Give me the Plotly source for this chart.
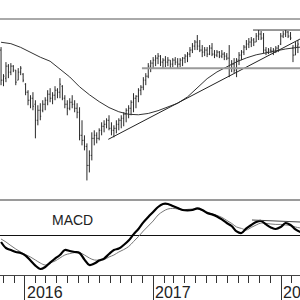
import pandas as pd
import plotly.graph_objects as go

# ---------------- data (price scale is unlabeled) ----------------
week_start = "2015-10-25"

highs = [203,176,188,186,187,185,180,182,184,177,
         167,160,155,158,150,145,147,150,153,160,
         162,158,164,162,172,165,155,150,152,155,
         150,147,143,130,115,107,100,118,120,118,
         122,128,130,132,135,128,125,130,132,135,
         138,142,145,150,157,155,162,165,173,177,
         187,190,193,195,197,195,192,194,193,190,
         192,193,192,192,193,196,198,203,207,210,
         215,210,205,203,203,205,207,200,200,199,
         200,198,197,205,190,192,192,198,200,205,
         210,212,213,212,217,220,219,217,203,202,
         203,202,204,205,217,219,220,219,218,205,208,210]
lows = [165,164,168,172,175,178,165,170,175,168,
        155,145,142,140,112,125,130,138,140,145,
        148,146,150,152,152,150,142,135,140,142,
        138,132,110,105,100,70,78,90,105,107,
        110,115,118,122,120,115,113,117,120,122,
        124,128,132,135,138,142,148,155,160,165,
        172,178,182,184,186,184,182,183,184,182,
        183,185,182,183,184,187,188,193,197,200,
        200,198,193,194,193,195,194,192,193,192,
        192,190,190,173,178,177,173,185,190,195,
        200,202,203,204,208,210,210,197,195,196,
        197,195,197,198,205,212,213,212,210,188,195,197]
opens = [200,170,172,184,178,184,180,170,178,176,
         166,158,150,152,146,130,140,140,146,150,
         156,152,155,160,158,164,152,146,142,148,
         146,142,138,115,110,104,85,95,112,115,
         112,120,124,126,130,122,120,122,126,130,
         132,136,140,142,148,152,154,160,163,170,
         174,184,187,190,192,194,188,190,188,190,
         186,190,188,186,190,192,194,196,200,204,
         208,204,200,198,200,196,202,196,195,198,
         194,196,194,192,182,186,180,190,195,198,
         203,206,208,210,208,214,216,212,200,198,
         200,199,200,202,206,214,216,218,214,202,195,204]
closes = [170,174,184,178,184,180,168,178,182,170,
          158,150,152,144,130,140,134,146,150,156,
          152,155,160,158,166,152,146,142,148,146,
          142,138,115,110,104,85,95,112,115,112,
          120,124,126,130,122,120,122,126,130,132,
          136,140,142,148,152,154,160,163,170,174,
          184,187,190,192,194,188,190,188,190,186,
          190,188,186,190,192,194,196,200,204,208,
          204,200,198,200,196,202,196,195,198,194,
          196,194,192,182,186,180,190,195,198,203,
          206,208,210,208,214,216,212,200,198,200,
          199,200,202,204,214,216,218,214,212,195,204,206]

# moving average, sampled every 4 weeks
ma_values = [207.8,206.4,202.7,197.7,192.9,188.9,181.1,173.2,163.4,155.5,
             148.6,142.7,138.5,136.0,135.5,136.8,139.6,143.0,147.0,153.3,
             162.4,171.5,178.2,183.4,188.3,192.2,195.3,197.2,199.2,201.1,
             202.4,203.5]

# MACD and signal, sampled every 2 weeks
macd_values = [-0.35,-0.65,-0.75,-0.85,-0.90,-1.03,-1.28,-1.53,-1.70,-1.60,
               -1.38,-1.18,-1.00,-0.75,-0.80,-0.85,-0.90,-1.23,-1.50,-1.43,
               -1.28,-1.18,-0.95,-0.75,-0.68,-0.50,-0.28,0.03,0.30,0.63,
               0.90,1.15,1.40,1.55,1.55,1.45,1.35,1.25,1.23,1.25,
               1.33,1.25,1.10,1.03,0.93,0.78,0.60,0.45,0.18,0.10,
               0.33,0.50,0.65,0.70,0.53,0.38,0.30,0.40,0.60,0.50,
               0.28,0.15]
signal_values = [-0.20,-0.35,-0.53,-0.70,-0.85,-0.98,-1.10,-1.25,-1.40,-1.50,
                 -1.40,-1.30,-1.15,-1.00,-0.93,-0.88,-0.88,-1.00,-1.15,-1.25,
                 -1.25,-1.23,-1.10,-1.00,-0.85,-0.73,-0.58,-0.33,-0.08,0.20,
                 0.45,0.70,1.00,1.18,1.30,1.33,1.30,1.25,1.28,1.30,
                 1.30,1.23,1.15,1.05,0.98,0.88,0.73,0.58,0.40,0.33,
                 0.25,0.38,0.50,0.60,0.58,0.55,0.53,0.53,0.50,0.48,
                 0.40,0.35]

trend_dates = ["2016-08-26", "2018-02-24"]
trend_values = [111, 211]
support_dates = ["2016-11-30", "2018-02-24"]
support_values = [182, 182]
resist_dates = ["2017-10-13", "2018-02-24"]
resist_values = [220, 220]
macd_trend_dates = ["2017-10-10", "2018-02-24"]
macd_trend_values = [0.75, 0.65]

year_ticks = ["2016-01-01", "2017-01-01", "2018-01-01"]
year_labels = ["2016", "2017", "2018"]
x_range = ["2015-10-22", "2018-02-24"]

# ---------------- figure ----------------
weeks = pd.date_range(week_start, periods=len(highs), freq="7D")
ma_dates = pd.date_range(week_start, periods=len(ma_values), freq="28D")
macd_dates = pd.date_range(week_start, periods=len(macd_values), freq="14D")

FONT = "Liberation Sans, Arial, sans-serif"
fig = go.Figure()

fig.add_trace(go.Ohlc(x=weeks, open=opens, high=highs, low=lows, close=closes,
                      increasing=dict(line=dict(color="#2a2a2a", width=1)),
                      decreasing=dict(line=dict(color="#2a2a2a", width=1)),
                      tickwidth=0.35, xaxis="x", yaxis="y", showlegend=False))
fig.add_trace(go.Scatter(x=ma_dates, y=ma_values, mode="lines",
                         line=dict(color="#333", width=1), xaxis="x", yaxis="y"))
fig.add_trace(go.Scatter(x=trend_dates, y=trend_values, mode="lines",
                         line=dict(color="#222", width=1), xaxis="x", yaxis="y"))
fig.add_trace(go.Scatter(x=support_dates, y=support_values, mode="lines",
                         line=dict(color="#9a9a9a", width=2), xaxis="x", yaxis="y"))
fig.add_trace(go.Scatter(x=resist_dates, y=resist_values, mode="lines",
                         line=dict(color="#333", width=1), xaxis="x", yaxis="y"))

fig.add_trace(go.Scatter(x=macd_dates, y=signal_values, mode="lines",
                         line=dict(color="#777", width=1, shape="spline"),
                         xaxis="x2", yaxis="y2"))
fig.add_trace(go.Scatter(x=macd_dates, y=macd_values, mode="lines",
                         line=dict(color="#000", width=2.2, shape="spline"),
                         xaxis="x2", yaxis="y2"))
fig.add_trace(go.Scatter(x=macd_trend_dates, y=macd_trend_values, mode="lines",
                         line=dict(color="#444", width=1), xaxis="x2", yaxis="y2"))

split = (275 - 198.5) / 275
top = (275 - 19) / 275

fig.update_layout(
    width=300, height=300,
    margin=dict(l=0, r=0, t=0, b=25),
    paper_bgcolor="white", plot_bgcolor="white",
    showlegend=False,
    font=dict(family=FONT, color="#222"),
    xaxis=dict(domain=[0, 1], anchor="y", range=x_range, type="date",
               showticklabels=False, ticks="", showgrid=False, zeroline=False,
               showline=True, linecolor="#9a9a9a", linewidth=2,
               rangeslider=dict(visible=False)),
    yaxis=dict(domain=[split, top], range=[52, 231], visible=False),
    xaxis2=dict(domain=[0, 1], anchor="y2", range=x_range, type="date",
                showticklabels=False, showgrid=False, zeroline=False,
                showline=True, linecolor="#444", linewidth=1,
                ticks="outside", tick0="2016-01-01", dtick="M12",
                ticklen=25, tickcolor="#333", tickwidth=1,
                minor=dict(ticks="outside", dtick="M1", tick0="2016-01-01",
                           ticklen=7, tickcolor="#333", tickwidth=1, showgrid=False)),
    yaxis2=dict(domain=[0, split], range=[-2.0, 1.825], showticklabels=False,
                ticks="", showgrid=False, showline=False,
                zeroline=True, zerolinecolor="#111", zerolinewidth=1),
)

fig.add_shape(type="line", xref="paper", yref="y domain", x0=0, x1=1, y0=1, y1=1,
              line=dict(color="#555", width=1))

fig.add_annotation(text="MACD", xref="paper", yref="paper", x=50 / 300, y=(275 - 220) / 275,
                   xanchor="left", yanchor="middle", showarrow=False,
                   font=dict(family=FONT, size=14, color="#222"))
for d, lab in zip(year_ticks, year_labels):
    fig.add_annotation(text=lab, xref="x2", yref="paper", x=d, y=(275 - 292) / 275,
                       xanchor="left", yanchor="middle", showarrow=False,
                       font=dict(family=FONT, size=16, color="#222"))

fig.write_html("out.html")
